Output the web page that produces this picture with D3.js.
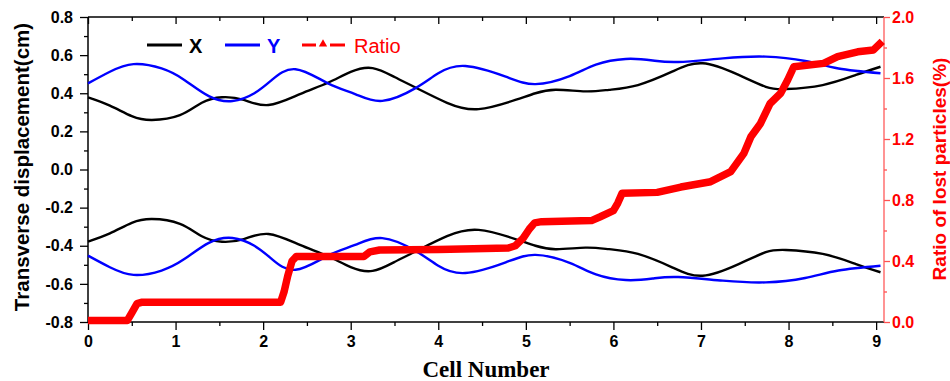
<!DOCTYPE html>
<html><head><meta charset="utf-8">
<script src="https://cdn.jsdelivr.net/npm/d3@7"></script>
<style>
html,body{margin:0;padding:0;background:#fff;}
svg{display:block;}
</style></head>
<body>
<svg id="chart" width="950" height="381"></svg>
<script>
// ---------------- DATA ----------------
const xTicks = [0,1,2,3,4,5,6,7,8,9];
const xMinorTicks = [0.5,1.5,2.5,3.5,4.5,5.5,6.5,7.5,8.5];
const leftTicks = [-0.8,-0.6,-0.4,-0.2,0.0,0.2,0.4,0.6,0.8];
const leftMinorTicks = [-0.7,-0.5,-0.3,-0.1,0.1,0.3,0.5,0.7];
const rightTicks = [0.0,0.4,0.8,1.2,1.6,2.0];
const rightMinorTicks = [0.2,0.6,1.0,1.4,1.8];

// X envelope (black), upper and lower branches: [cell, cm]
const xUpper = [[0,0.378],[0.25,0.335],[0.5,0.28],[0.73,0.26],[1.05,0.285],[1.3,0.35],[1.53,0.379],[1.78,0.365],[2.06,0.338],[2.42,0.395],[2.74,0.455],[3.0,0.512],[3.25,0.532],[3.5,0.485],[3.74,0.43],[4.1,0.35],[4.46,0.317],[4.88,0.365],[5.11,0.40],[5.34,0.418],[5.68,0.41],[5.95,0.418],[6.28,0.443],[6.67,0.513],[7.02,0.557],[7.43,0.496],[7.74,0.434],[7.97,0.422],[8.39,0.443],[8.77,0.496],[9.05,0.539]];
const xLower = [[0,-0.378],[0.25,-0.335],[0.5,-0.28],[0.73,-0.26],[1.05,-0.285],[1.3,-0.35],[1.53,-0.379],[1.78,-0.365],[2.06,-0.338],[2.42,-0.395],[2.74,-0.455],[3.0,-0.512],[3.25,-0.532],[3.5,-0.485],[3.74,-0.43],[4.1,-0.35],[4.46,-0.317],[4.88,-0.365],[5.11,-0.40],[5.34,-0.418],[5.68,-0.41],[5.95,-0.418],[6.28,-0.443],[6.67,-0.513],[7.02,-0.557],[7.43,-0.496],[7.74,-0.434],[7.97,-0.422],[8.39,-0.443],[8.77,-0.496],[9.05,-0.539]];

// Y envelope (blue), upper and lower branches: [cell, cm]
const yUpper = [[0,0.452],[0.25,0.513],[0.52,0.553],[0.84,0.53],[1.1,0.47],[1.38,0.385],[1.65,0.359],[1.9,0.40],[2.1,0.47],[2.37,0.526],[2.74,0.452],[3.05,0.396],[3.36,0.36],[3.74,0.427],[4.0,0.505],[4.31,0.543],[4.77,0.487],[5.11,0.448],[5.5,0.49],[5.8,0.55],[6.14,0.58],[6.45,0.572],[6.74,0.564],[7.25,0.583],[7.74,0.592],[8.19,0.569],[8.57,0.53],[9.05,0.505]];
const yLower = [[0,-0.452],[0.25,-0.513],[0.52,-0.553],[0.84,-0.53],[1.1,-0.47],[1.38,-0.385],[1.65,-0.359],[1.9,-0.40],[2.1,-0.47],[2.37,-0.526],[2.74,-0.452],[3.05,-0.396],[3.36,-0.36],[3.74,-0.427],[4.0,-0.505],[4.31,-0.543],[4.77,-0.487],[5.11,-0.448],[5.5,-0.49],[5.8,-0.55],[6.14,-0.58],[6.45,-0.572],[6.74,-0.564],[7.25,-0.583],[7.74,-0.592],[8.19,-0.569],[8.57,-0.53],[9.05,-0.505]];

// Ratio of lost particles (%): [cell, %]
const ratio = [[0,0.01],[0.45,0.01],[0.5,0.06],[0.56,0.12],[0.62,0.13],[2.2,0.13],[2.24,0.2],[2.28,0.3],[2.33,0.4],[2.38,0.43],[3.15,0.43],[3.22,0.46],[3.33,0.472],[4.0,0.476],[4.8,0.485],[4.88,0.5],[4.97,0.55],[5.04,0.61],[5.1,0.65],[5.18,0.658],[5.75,0.665],[5.85,0.69],[6.0,0.73],[6.05,0.78],[6.1,0.845],[6.5,0.85],[6.77,0.885],[7.11,0.92],[7.34,0.986],[7.49,1.106],[7.57,1.215],[7.68,1.302],[7.79,1.433],[7.91,1.5],[7.99,1.587],[8.06,1.674],[8.4,1.696],[8.56,1.74],[8.79,1.772],[8.97,1.784],[9.07,1.84]];

// ---------------- CHART ----------------
const svg = d3.select("#chart");
const L = 88, R = 884, T = 17, B = 322;
const x = d3.scaleLinear().domain([0, 9.09]).range([L, R]);
const y = d3.scaleLinear().domain([-0.8, 0.8]).range([B, T]);
const y2 = d3.scaleLinear().domain([0, 2.0]).range([B, T]);

const sans = "'Liberation Sans', Arial, Helvetica, sans-serif";
const fmt1 = d => d.toFixed(1);

function styleAxis(g, color, fontColor) {
  g.selectAll("path.domain").remove();
  g.selectAll("line").attr("stroke", color).attr("stroke-width", 1.3);
  g.selectAll("text").attr("font-family", sans).attr("font-weight", "bold")
    .attr("font-size", 16).attr("fill", fontColor);
}

// bottom axis
const gb = svg.append("g").attr("transform", `translate(0,${B})`)
  .call(d3.axisBottom(x).tickValues(xTicks).tickSize(8).tickPadding(6).tickFormat(d => String(d)));
styleAxis(gb, "#000", "#000");
const gbm = svg.append("g").attr("transform", `translate(0,${B})`)
  .call(d3.axisBottom(x).tickValues(xMinorTicks).tickSize(4).tickFormat(""));
styleAxis(gbm, "#000", "#000");

// top axis (inward ticks)
const gt = svg.append("g").attr("transform", `translate(0,${T})`)
  .call(d3.axisTop(x).tickValues(xTicks).tickSize(-7).tickFormat(""));
styleAxis(gt, "#000", "#000");
const gtm = svg.append("g").attr("transform", `translate(0,${T})`)
  .call(d3.axisTop(x).tickValues(xMinorTicks).tickSize(-4).tickFormat(""));
styleAxis(gtm, "#000", "#000");

// left axis
const gl = svg.append("g").attr("transform", `translate(${L},0)`)
  .call(d3.axisLeft(y).tickValues(leftTicks).tickSize(8).tickPadding(7).tickFormat(fmt1));
styleAxis(gl, "#000", "#000");
const glm = svg.append("g").attr("transform", `translate(${L},0)`)
  .call(d3.axisLeft(y).tickValues(leftMinorTicks).tickSize(4).tickFormat(""));
styleAxis(glm, "#000", "#000");

// right axis (red)
const gr = svg.append("g").attr("transform", `translate(${R},0)`)
  .call(d3.axisRight(y2).tickValues(rightTicks).tickSize(6).tickPadding(2).tickFormat(fmt1));
styleAxis(gr, "#ff5050", "#ff0000");
const grm = svg.append("g").attr("transform", `translate(${R},0)`)
  .call(d3.axisRight(y2).tickValues(rightMinorTicks).tickSize(3).tickFormat(""));
styleAxis(grm, "#ff5050", "#ff0000");

// frame lines
svg.append("line").attr("x1", L).attr("x2", R).attr("y1", T).attr("y2", T).attr("stroke", "#000").attr("stroke-width", 1.5);
svg.append("line").attr("x1", L).attr("x2", R).attr("y1", B).attr("y2", B).attr("stroke", "#000").attr("stroke-width", 1.5);
svg.append("line").attr("x1", L).attr("x2", L).attr("y1", T).attr("y2", B).attr("stroke", "#000").attr("stroke-width", 1.5);
svg.append("line").attr("x1", R).attr("x2", R).attr("y1", T).attr("y2", B).attr("stroke", "#ff5a5a").attr("stroke-width", 1.3);

// curves
const lineL = d3.line().x(d => x(d[0])).y(d => y(d[1])).curve(d3.curveNatural);
const lineR = d3.line().x(d => x(d[0])).y(d => y2(d[1])).curve(d3.curveLinear);

const curves = [
  {data: xUpper, color: "#000000"},
  {data: xLower, color: "#000000"},
  {data: yUpper, color: "#0000ff"},
  {data: yLower, color: "#0000ff"}
];
curves.forEach(c => {
  svg.append("path").datum(c.data).attr("d", lineL)
    .attr("fill", "none").attr("stroke", c.color).attr("stroke-width", 2.4);
});

svg.append("path").datum(ratio).attr("d", lineR)
  .attr("fill", "none").attr("stroke", "#ff0000").attr("stroke-width", 7.5)
  .attr("stroke-linejoin", "round").attr("stroke-linecap", "butt");

// legend
const lg = svg.append("g");
lg.append("line").attr("x1", 147).attr("x2", 182).attr("y1", 45).attr("y2", 45).attr("stroke", "#000").attr("stroke-width", 3);
lg.append("text").attr("x", 189).attr("y", 52.5).text("X").attr("font-family", sans).attr("font-weight", "bold").attr("font-size", 20).attr("fill", "#000");
lg.append("line").attr("x1", 225).attr("x2", 260).attr("y1", 45).attr("y2", 45).attr("stroke", "#0000ff").attr("stroke-width", 3);
lg.append("text").attr("x", 267).attr("y", 52.5).text("Y").attr("font-family", sans).attr("font-weight", "bold").attr("font-size", 20).attr("fill", "#0000ff");
lg.append("line").attr("x1", 302).attr("x2", 316).attr("y1", 45).attr("y2", 45).attr("stroke", "#ff0000").attr("stroke-width", 3);
lg.append("line").attr("x1", 330).attr("x2", 345).attr("y1", 45).attr("y2", 45).attr("stroke", "#ff0000").attr("stroke-width", 3);
lg.append("path").attr("d", d3.symbol().type(d3.symbolTriangle).size(30)).attr("transform", "translate(323,44)").attr("fill", "#ff0000");
lg.append("text").attr("x", 354).attr("y", 52.5).text("Ratio").attr("font-family", sans).attr("font-size", 20).attr("fill", "#ff0000");

// axis titles
svg.append("text").attr("transform", "translate(29,167) rotate(-90)").attr("text-anchor", "middle")
  .attr("font-family", sans).attr("font-weight", "bold").attr("font-size", 20.5).attr("fill", "#000")
  .text("Transverse displacement(cm)");
svg.append("text").attr("transform", "translate(946,169) rotate(-90)").attr("text-anchor", "middle")
  .attr("font-family", sans).attr("font-weight", "bold").attr("font-size", 19).attr("fill", "#ff0000")
  .text("Ratio of lost particles(%)");
svg.append("text").attr("x", 486).attr("y", 377).attr("text-anchor", "middle")
  .attr("font-family", "'Liberation Serif', 'Times New Roman', serif").attr("font-weight", "bold").attr("font-size", 23).attr("fill", "#000")
  .text("Cell Number");
</script>
</body></html>
